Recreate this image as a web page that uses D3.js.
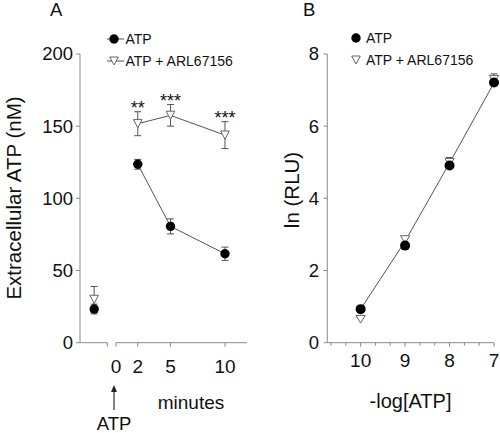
<!DOCTYPE html>
<html>
<head>
<meta charset="utf-8">
<script src="https://cdn.jsdelivr.net/npm/d3@7"></script>
<style>
  html, body { margin: 0; padding: 0; background: #fff; }
  svg { display: block; font-family: "Liberation Sans", Arial, sans-serif; }
</style>
</head>
<body>
<svg id="chart" width="500" height="433"></svg>
<script>
// ---------- Panel A data ----------
const timesA = [2, 5, 10];
const atpA = [123.6, 80.6, 61.6];
const atpAErr = [3.4, 5.2, 4.6];
const arlA = [151.7, 157.5, 143.8];
const arlAErr = [8.3, 7.5, 9.3];
const preTime = -2;
const atpPre = 23.3, atpPreErr = 3.4;
const arlPre = 30, arlPreErr = 8.9;
const starsA = ["**", "***", "***"];
const xTicksA = [0, 2, 5, 10];
const yTicksA = [0, 50, 100, 150, 200];

// ---------- Panel B data ----------
const concB = [10, 9, 8, 7];
const atpB = [0.93, 2.69, 4.91, 7.21];
const arlB = [0.65, 2.86, 5.0, 7.3];
const arlBErr = [0, 0, 0.08, 0.1];
const fitB = [0.93, 2.81, 4.98, 7.2];
const xTicksB = [10, 9, 8, 7];
const yTicksB = [0, 2, 4, 6, 8];

const legendLabels = ["ATP", "ATP + ARL67156"];

const svg = d3.select("#chart");
const axisColor = "#8a8a8a";
const lineColor = "#555";
const textColor = "#111";

function triPath(w, h) {
  return `M${-w/2},${-h/2}L${w/2},${-h/2}L0,${h/2}Z`;
}
function errBar(g, x, y, yLo, yHi, cap) {
  g.append("line").attr("x1", x).attr("x2", x).attr("y1", y(yLo)).attr("y2", y(yHi))
    .attr("stroke", lineColor).attr("stroke-width", 1);
  [yLo, yHi].forEach(v => g.append("line").attr("x1", x - cap).attr("x2", x + cap)
    .attr("y1", y(v)).attr("y2", y(v)).attr("stroke", lineColor).attr("stroke-width", 1));
}

// ================= Panel A =================
const xA = d3.scaleLinear().domain([-3.3, 12]).range([80, 246.8]);
const yA = d3.scaleLinear().domain([0, 200]).range([342.7, 54]);
const gA = svg.append("g");

// y axis
gA.append("line").attr("x1", 80).attr("x2", 80).attr("y1", yA(200)).attr("y2", yA(0))
  .attr("stroke", axisColor);
yTicksA.forEach(t => {
  gA.append("line").attr("x1", 76).attr("x2", 80).attr("y1", yA(t)).attr("y2", yA(t)).attr("stroke", axisColor);
  gA.append("text").attr("x", 73).attr("y", yA(t)).attr("dy", "0.35em").attr("text-anchor", "end")
    .attr("font-size", 18.5).attr("fill", textColor).text(t);
});
// broken x axis
const breakT = -0.8;
gA.append("line").attr("x1", xA(-3.3)).attr("x2", xA(breakT)).attr("y1", yA(0)).attr("y2", yA(0)).attr("stroke", axisColor);
gA.append("line").attr("x1", xA(0)).attr("x2", xA(12)).attr("y1", yA(0)).attr("y2", yA(0)).attr("stroke", axisColor);
[breakT].concat(xTicksA).forEach(t => {
  gA.append("line").attr("x1", xA(t)).attr("x2", xA(t)).attr("y1", yA(0)).attr("y2", yA(0) + 4).attr("stroke", axisColor);
});
xTicksA.forEach(t => {
  gA.append("text").attr("x", xA(t)).attr("y", 373).attr("text-anchor", "middle")
    .attr("font-size", 19).attr("fill", textColor).text(t);
});
gA.append("text").attr("x", 191).attr("y", 409).attr("text-anchor", "middle")
  .attr("font-size", 19).attr("fill", textColor).text("minutes");
// arrow
gA.append("line").attr("x1", 114).attr("x2", 114).attr("y1", 390).attr("y2", 410).attr("stroke", "#333").attr("stroke-width", 1.2);
gA.append("path").attr("d", "M114,385L111,392L117,392Z").attr("fill", "#222");
gA.append("text").attr("x", 114).attr("y", 430).attr("text-anchor", "middle")
  .attr("font-size", 18.5).attr("fill", textColor).text("ATP");

// y label
gA.append("text").attr("transform", "translate(21,198) rotate(-90)").attr("text-anchor", "middle")
  .attr("font-size", 20.5).attr("fill", textColor).text("Extracellular ATP (nM)");
gA.append("text").attr("x", 50).attr("y", 16).attr("font-size", 18.5).attr("fill", textColor).text("A");

// lines
const lineA = d3.line().x(d => xA(d[0])).y(d => yA(d[1]));
gA.append("path").attr("d", lineA(timesA.map((t, i) => [t, arlA[i]]))).attr("fill", "none").attr("stroke", lineColor);
gA.append("path").attr("d", lineA(timesA.map((t, i) => [t, atpA[i]]))).attr("fill", "none").attr("stroke", lineColor);

// error bars
timesA.forEach((t, i) => {
  errBar(gA, xA(t), yA, arlA[i] - arlAErr[i], arlA[i] + arlAErr[i], 3.5);
  errBar(gA, xA(t), yA, atpA[i] - atpAErr[i], atpA[i] + atpAErr[i], 3.5);
});
errBar(gA, xA(preTime), yA, arlPre - arlPreErr, arlPre + arlPreErr, 3.5);
errBar(gA, xA(preTime), yA, atpPre - atpPreErr, atpPre + atpPreErr, 3.5);

// markers
timesA.forEach((t, i) => {
  gA.append("path").attr("d", triPath(8.6, 8.3)).attr("transform", `translate(${xA(t)},${yA(arlA[i])})`)
    .attr("fill", "#fff").attr("stroke", "#666");
  gA.append("circle").attr("cx", xA(t)).attr("cy", yA(atpA[i])).attr("r", 4.7).attr("fill", "#000");
});
gA.append("path").attr("d", triPath(8.6, 8.3)).attr("transform", `translate(${xA(preTime)},${yA(arlPre)})`)
  .attr("fill", "#fff").attr("stroke", "#666");
gA.append("circle").attr("cx", xA(preTime)).attr("cy", yA(atpPre)).attr("r", 4.7).attr("fill", "#000");

// stars
timesA.forEach((t, i) => {
  gA.append("text").attr("x", xA(t)).attr("y", yA(arlA[i] + arlAErr[i]) + 2)
    .attr("text-anchor", "middle").attr("font-size", 18).attr("fill", textColor).text(starsA[i]);
});

// legend A
[0, 1].forEach(k => {
  const ly = k === 0 ? 39 : 61;
  gA.append("line").attr("x1", 107).attr("x2", 124).attr("y1", ly).attr("y2", ly).attr("stroke", lineColor);
  if (k === 0) gA.append("circle").attr("cx", 114).attr("cy", ly).attr("r", 4.7).attr("fill", "#000");
  else gA.append("path").attr("d", triPath(8.6, 8)).attr("transform", `translate(114,${ly})`).attr("fill", "#fff").attr("stroke", "#666");
  gA.append("text").attr("x", 125.5).attr("y", ly).attr("dy", "0.36em").attr("font-size", 14).attr("fill", textColor).text(legendLabels[k]);
});

// ================= Panel B =================
const xB = d3.scaleLinear().domain([10.75, 7]).range([327.3, 494]);
const yB = d3.scaleLinear().domain([0, 8]).range([342.7, 54]);
const gB = svg.append("g");

gB.append("line").attr("x1", 327.3).attr("x2", 327.3).attr("y1", yB(8)).attr("y2", yB(0)).attr("stroke", axisColor);
yTicksB.forEach(t => {
  gB.append("line").attr("x1", 323.5).attr("x2", 327.3).attr("y1", yB(t)).attr("y2", yB(t)).attr("stroke", axisColor);
  gB.append("text").attr("x", 319).attr("y", yB(t)).attr("dy", "0.35em").attr("text-anchor", "end")
    .attr("font-size", 18.5).attr("fill", textColor).text(t);
});
gB.append("line").attr("x1", xB(10.75)).attr("x2", xB(7)).attr("y1", yB(0)).attr("y2", yB(0)).attr("stroke", axisColor);
d3.range(0, 12).map(i => 7 + i / 3).filter(v => v < 10.75).forEach(v => {
  const major = Math.abs(v - Math.round(v)) < 1e-6;
  gB.append("line").attr("x1", xB(v)).attr("x2", xB(v)).attr("y1", yB(0)).attr("y2", yB(0) + (major ? 4 : 3)).attr("stroke", axisColor);
});
xTicksB.forEach(t => {
  gB.append("text").attr("x", xB(t)).attr("y", 366.5).attr("text-anchor", "middle")
    .attr("font-size", 19).attr("fill", textColor).text(t);
});
gB.append("text").attr("x", 410.5).attr("y", 408).attr("text-anchor", "middle")
  .attr("font-size", 20).attr("fill", textColor).text("-log[ATP]");
gB.append("text").attr("transform", "translate(299,190) rotate(-90)").attr("text-anchor", "middle")
  .attr("font-size", 20.5).attr("fill", textColor).text("ln (RLU)");
gB.append("text").attr("x", 303).attr("y", 16).attr("font-size", 18.5).attr("fill", textColor).text("B");

// fit line
const lineB = d3.line().x(d => xB(d[0])).y(d => yB(d[1]));
gB.append("path").attr("d", lineB(concB.map((c, i) => [c, fitB[i]]))).attr("fill", "none").attr("stroke", lineColor);

concB.forEach((c, i) => {
  if (arlBErr[i] > 0) errBar(gB, xB(c), yB, arlB[i] - arlBErr[i], arlB[i] + arlBErr[i] + 0.05, 3.5);
  gB.append("path").attr("d", triPath(9.2, 7.6)).attr("transform", `translate(${xB(c)},${yB(arlB[i])})`)
    .attr("fill", "#fff").attr("stroke", "#666");
  gB.append("circle").attr("cx", xB(c)).attr("cy", yB(atpB[i])).attr("r", 5).attr("fill", "#000");
});

// legend B
[0, 1].forEach(k => {
  const ly = k === 0 ? 38 : 60;
  if (k === 0) gB.append("circle").attr("cx", 356).attr("cy", ly).attr("r", 4.7).attr("fill", "#000");
  else gB.append("path").attr("d", triPath(8.6, 8)).attr("transform", `translate(356,${ly})`).attr("fill", "#fff").attr("stroke", "#666");
  gB.append("text").attr("x", 366).attr("y", ly).attr("dy", "0.36em").attr("font-size", 14).attr("fill", textColor).text(legendLabels[k]);
});
</script>
</body>
</html>
